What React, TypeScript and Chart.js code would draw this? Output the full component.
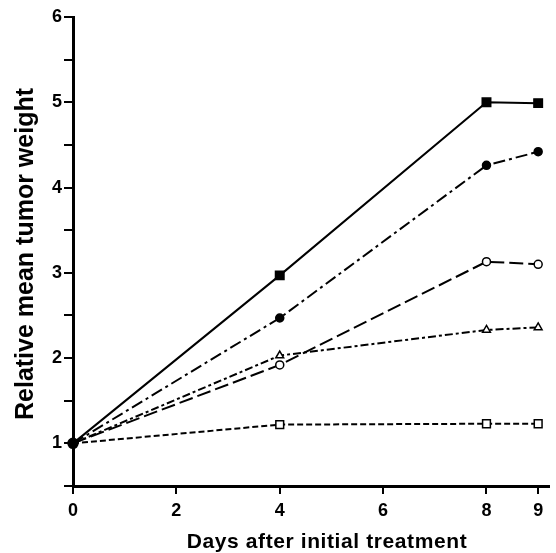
import React, { useEffect, useRef } from "react";
import { Chart, registerables } from "chart.js";

Chart.register(...registerables);

const days = [0, 4, 8, 9];
const filledSquare = [1, 2.97, 5.0, 4.99];
const filledCircle = [1, 2.47, 4.26, 4.42];
const openCircle = [1, 1.92, 3.13, 3.1];
const openTriangle = [1, 2.03, 2.33, 2.36];
const openSquare = [1, 1.22, 1.23, 1.23];
const originPoint = [1];
const xTickValues = [0, 2, 4, 6, 8, 9];
const xTitle = "Days after initial treatment";
const yTitle = "Relative mean tumor weight";

const FONT = "'Liberation Sans', Arial, sans-serif";

const toPts = (ys: number[]) => ys.map((y, i) => ({ x: days[i], y }));

const axisTitles = {
  id: "axisTitles",
  afterDraw(chart: any) {
    const ctx = chart.ctx as CanvasRenderingContext2D;
    ctx.save();
    ctx.fillStyle = "#000";
    ctx.font = `bold 21px ${FONT}`;
    (ctx as any).letterSpacing = "0.6px";
    ctx.textAlign = "center";
    ctx.textBaseline = "alphabetic";
    ctx.fillText(xTitle, 327, 548);
    ctx.restore();

    ctx.save();
    ctx.fillStyle = "#000";
    ctx.font = `bold 25px ${FONT}`;
    ctx.textAlign = "center";
    ctx.textBaseline = "alphabetic";
    ctx.translate(33, 254);
    ctx.rotate(-Math.PI / 2);
    ctx.fillText(yTitle, 0, 0);
    ctx.restore();
  },
};

export default function App() {
  const ref = useRef<HTMLCanvasElement | null>(null);
  useEffect(() => {
    if (!ref.current) return;
    const common = {
      borderColor: "#000",
      borderWidth: 2,
      pointBorderColor: "#000",
      pointBorderWidth: 1.5,
      fill: false,
      tension: 0,
    };
    const chart = new Chart(ref.current, {
      type: "line",
      data: {
        datasets: [
          {
            ...common,
            label: "filled square",
            data: toPts(filledSquare),
            pointStyle: "rect",
            pointRadius: [0, 6, 6, 6],
            pointBackgroundColor: "#000",
          },
          {
            ...common,
            label: "filled circle",
            data: toPts(filledCircle),
            borderDash: [12, 4, 3, 4],
            pointStyle: "circle",
            pointRadius: [0, 4, 4, 4],
            pointBackgroundColor: "#000",
          },
          {
            ...common,
            label: "open circle",
            data: toPts(openCircle),
            borderDash: [14, 5],
            pointStyle: "circle",
            pointRadius: [0, 4, 4, 4],
            pointBackgroundColor: "#fff",
          },
          {
            ...common,
            label: "open triangle",
            data: toPts(openTriangle),
            borderDash: [8, 3, 3, 3],
            pointStyle: "triangle",
            pointRadius: [0, 4.5, 4.5, 4.5],
            pointBackgroundColor: "#fff",
          },
          {
            ...common,
            label: "open square",
            data: toPts(openSquare),
            borderDash: [6, 3],
            pointStyle: "rect",
            pointRadius: [0, 5.5, 5.5, 5.5],
            pointBackgroundColor: "#fff",
          },
          {
            ...common,
            label: "origin",
            data: toPts(originPoint),
            showLine: false,
            pointStyle: "circle",
            pointRadius: 5,
            pointBackgroundColor: "#000",
          },
        ],
      },
      options: {
        responsive: false,
        animation: false,
        clip: false,
        layout: { padding: { top: 17, right: 3, left: 0, bottom: 0 } },
        plugins: { legend: { display: false }, tooltip: { enabled: false } },
        scales: {
          x: {
            type: "linear",
            min: 0,
            max: 9.2,
            afterBuildTicks: (scale: any) => {
              scale.ticks = xTickValues.map((v) => ({ value: v }));
            },
            afterFit: (scale: any) => {
              scale.height = 67;
            },
            grid: {
              drawOnChartArea: false,
              drawTicks: true,
              tickLength: 8,
              color: "#000",
              lineWidth: 2,
            },
            border: { display: true, color: "#000", width: 3 },
            ticks: {
              color: "#000",
              font: { family: FONT, size: 18, weight: "bold" },
              padding: 6,
              maxRotation: 0,
              autoSkip: false,
            },
            title: { display: false },
          },
          y: {
            type: "linear",
            min: 0.5,
            max: 6,
            afterFit: (scale: any) => {
              scale.width = 73;
            },
            grid: {
              drawOnChartArea: false,
              drawTicks: true,
              tickLength: 9,
              color: "#000",
              lineWidth: 2,
            },
            border: { display: true, color: "#000", width: 3 },
            ticks: {
              stepSize: 0.5,
              color: "#000",
              font: { family: FONT, size: 18, weight: "bold" },
              padding: 2,
              autoSkip: false,
              callback: (v: any) => (Number.isInteger(v) ? String(v) : ""),
            },
            title: { display: false },
          },
        },
      },
      plugins: [axisTitles],
    });
    return () => chart.destroy();
  }, []);
  return (
    <div style={{ position: "absolute", left: 0, top: 0, width: 556, height: 553 }}>
      <canvas ref={ref} width={556} height={553} />
    </div>
  );
}
